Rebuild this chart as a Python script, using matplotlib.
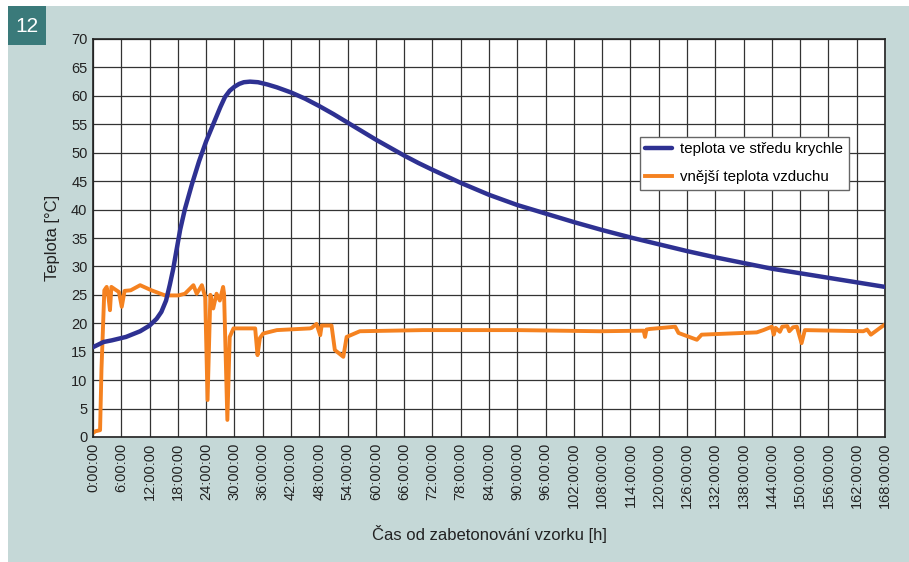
import matplotlib
matplotlib.use("Agg")
import matplotlib.pyplot as plt
from matplotlib.patches import Rectangle

plt.rcParams['font.family'] = ['Liberation Sans', 'DejaVu Sans']

# Core temperature (hours, degC)
core_h = [0, 1, 2.2, 4, 7, 10, 12, 13.5, 14.5, 15.5, 16.3, 17, 17.7, 18.5, 19.5, 21, 22.5, 24, 25.5,
          27, 28, 29, 30, 31, 32, 33.3, 35, 37, 39, 42, 45, 48, 51, 54, 57, 60, 63, 66, 69, 72,
          78, 84, 90, 96, 102, 108, 114, 120, 126, 132, 138, 144, 150, 156, 162, 168]
core_t = [15.8, 16.2, 16.7, 17.0, 17.6, 18.6, 19.6, 20.8, 22.0, 24.0, 26.8, 29.5, 32.8, 36.5, 40.1, 44.5,
          48.5, 52.0, 55.0, 58.0, 59.8, 60.9, 61.6, 62.1, 62.4, 62.5, 62.4, 62.0, 61.5, 60.6, 59.5, 58.2,
          56.8, 55.3, 53.8, 52.3, 50.9, 49.5, 48.2, 47.0, 44.7, 42.6, 40.8, 39.3, 37.8, 36.4, 35.1, 33.9,
          32.7, 31.6, 30.6, 29.6, 28.8, 28.0, 27.2, 26.4]

# Outside air temperature (hours, degC)
air_h = [0, 0.5, 1.5, 1.8, 2.1, 2.4, 2.9, 3.3, 3.6, 3.9, 4.6, 5.5, 6.1, 6.7, 8, 10, 12.4, 15.3, 18.1,
         19.5, 21.3, 22.0, 23.1, 23.8, 24.3, 24.9, 25.5, 26.2, 26.9, 27.6, 27.8, 28.5, 29.0, 29.8,
         34.4, 34.9, 35.4, 36.1, 39, 46, 46.4, 47.4, 48.2, 48.5, 50.6, 51.3, 53.1, 53.8, 56.6, 70,
         90, 107.6, 116.8, 117.1, 117.4, 118.1, 123.5, 124.2, 128.1, 129.1, 140.8, 142.2, 144.0,
         144.4, 144.8, 145.7, 146.2, 147.3, 147.7, 148.5, 149.3, 150.3, 151.0, 163.4, 164.2, 165.0,
         167.3, 168]
air_t = [0.7, 1.0, 1.2, 12.0, 18.8, 25.8, 26.4, 24.5, 22.3, 26.4, 26.0, 25.5, 22.9, 25.7, 25.8, 26.7,
         25.8, 24.9, 24.9, 25.2, 26.7, 25.2, 26.7, 24.6, 6.5, 25.0, 22.6, 25.2, 24.0, 26.4, 25.2, 3.0,
         17.6, 19.1, 19.1, 14.4, 17.4, 18.2, 18.8, 19.1, 19.2, 19.9, 17.9, 19.6, 19.6, 15.3, 14.1, 17.6,
         18.6, 18.8, 18.8, 18.6, 18.7, 17.6, 18.9, 19.0, 19.4, 18.3, 17.1, 18.0, 18.4, 18.8, 19.4,
         18.0, 19.2, 18.5, 19.4, 19.5, 18.6, 19.3, 19.4, 16.5, 18.8, 18.6, 18.9, 18.0, 19.4, 19.8]

x_ticks = list(range(0, 169, 6))
x_labels = [f"{h}:00:00" for h in x_ticks]
y_ticks = list(range(0, 71, 5))

fig = plt.figure(figsize=(9.09, 5.62), dpi=100)
fig.patch.set_facecolor('white')
W, H = 909, 562
fig.patches.append(Rectangle((8 / W, 0), 1, 1 - 6 / H, transform=fig.transFigure,
                             facecolor='#c5d8d7', edgecolor='none', zorder=-10))
fig.patches.append(Rectangle((8 / W, 1 - 45 / H), 38 / W, 39 / H, transform=fig.transFigure,
                             facecolor='#3a7a7a', edgecolor='none', zorder=-5))
fig.text(27 / W, 1 - 26 / H, "12", color='white', fontsize=15, ha='center', va='center')

ax = fig.add_axes([93 / W, 1 - 437 / H, (885 - 93) / W, (437 - 39) / H])
ax.set_facecolor('white')
ax.plot(core_h, core_t, color='#2e3192', lw=3.2, solid_capstyle='round',
        label='teplota ve středu krychle', zorder=3)
ax.plot(air_h, air_t, color='#f58220', lw=2.8, solid_joinstyle='round',
        label='vnější teplota vzduchu', zorder=2)

ax.set_xlim(0, 168)
ax.set_ylim(0, 70)
ax.set_xticks(x_ticks)
ax.set_xticklabels(x_labels, rotation=90, fontsize=10.5, color='#222222')
ax.set_yticks(y_ticks)
ax.set_yticklabels([str(v) for v in y_ticks], fontsize=10.5, color='#222222')
ax.tick_params(length=0, pad=4)
ax.grid(True, color='#333333', lw=0.9)
ax.set_axisbelow(True)
for s in ax.spines.values():
    s.set_color('#222222')
    s.set_linewidth(1.2)

ax.set_xlabel("Čas od zabetonování vzorku [h]", fontsize=12, color='#222222', labelpad=12)
ax.set_ylabel("Teplota [°C]", fontsize=12, color='#222222', labelpad=8)

leg = ax.legend(loc='upper left', bbox_to_anchor=((640 - 93) / 792, (437 - 137) / 398),
                fontsize=10.8, frameon=True, fancybox=False, framealpha=1,
                edgecolor='#666666', handlelength=1.75, handletextpad=0.6,
                borderpad=0.35, labelspacing=0.95, borderaxespad=0)
leg.get_frame().set_linewidth(1.0)

fig.savefig("out.png", dpi=100)
